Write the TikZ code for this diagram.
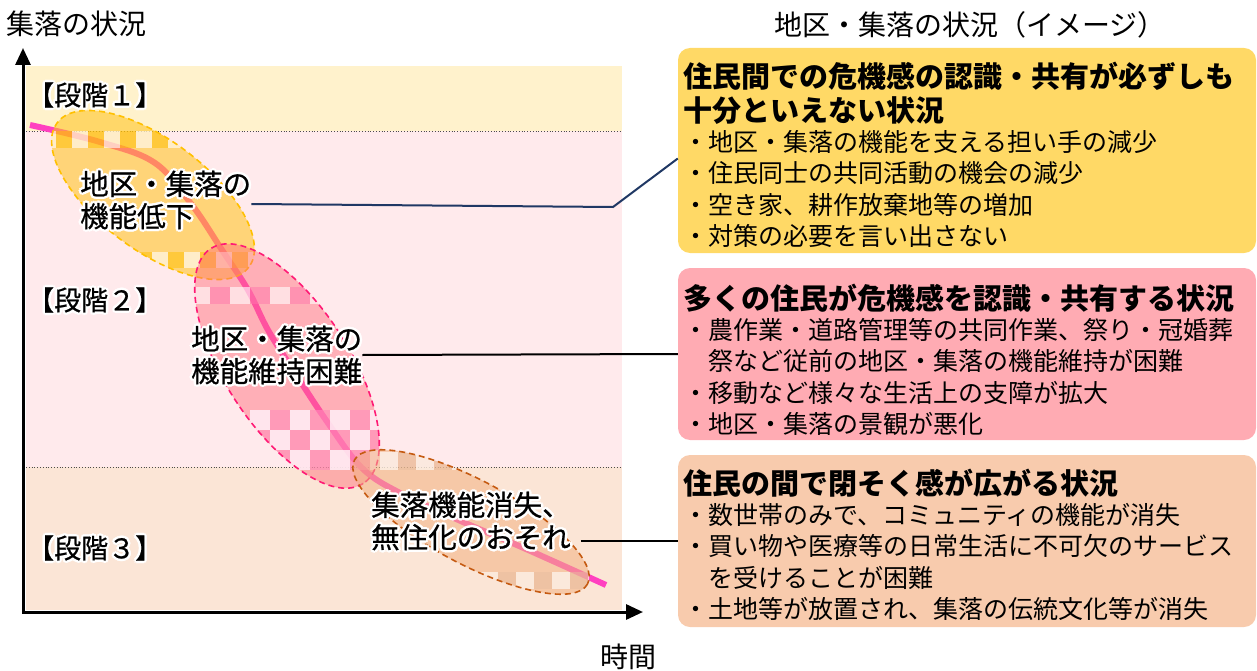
\documentclass[tikz,border=0pt]{standalone}
\usepackage{fontspec}
\setmainfont{Noto Sans CJK JP}
\newfontfamily\jpheavy[FakeBold=0.7]{Noto Sans CJK JP}
\usetikzlibrary{arrows.meta,positioning}

\definecolor{bandA}{HTML}{FFF2CC}
\definecolor{bandB}{HTML}{FFEAEC}
\definecolor{bandC}{HTML}{FBE5D6}
\definecolor{boxA}{HTML}{FFD966}
\definecolor{boxB}{HTML}{FFABB3}
\definecolor{boxC}{HTML}{F8CBAD}
\definecolor{ellA}{HTML}{FFC219}
\definecolor{ellB}{HTML}{FF6978}
\definecolor{ellC}{HTML}{F2B182}
\definecolor{rimA}{HTML}{FFC000}
\definecolor{rimB}{HTML}{FF1A75}
\definecolor{rimC}{HTML}{C55A11}
\definecolor{trendpink}{HTML}{FF40C0}
\definecolor{navy}{HTML}{203864}

% white halo round a line of text
\newcommand\hcopy[3]{\rlap{\hspace*{#1}\raisebox{#2}{\color{white}#3}}}
\newcommand\glow[1]{\hcopy{2.5pt}{0pt}{#1}\hcopy{-2.5pt}{0pt}{#1}\hcopy{0pt}{2.5pt}{#1}\hcopy{0pt}{-2.5pt}{#1}%
  \hcopy{1.8pt}{1.8pt}{#1}\hcopy{-1.8pt}{1.8pt}{#1}\hcopy{1.8pt}{-1.8pt}{#1}\hcopy{-1.8pt}{-1.8pt}{#1}#1}

\tikzset{
  lbltext/.style={font=\jpheavy\fontsize{28.5}{30}\selectfont, align=left, inner sep=0pt, anchor=west},
  stagetext/.style={font=\jpheavy\fontsize{27}{30}\selectfont, inner sep=0pt, anchor=west},
  plaintext/.style={font=\fontsize{28}{30}\selectfont, inner sep=0pt},
  infobox/.style={rounded corners=12pt, minimum width=578pt, inner sep=0pt},
  headtext/.style={font=\fontsize{29}{34}\selectfont\bfseries, align=left, inner sep=0pt, anchor=north west},
  itemtext/.style={font=\fontsize{25}{31.5}\selectfont, align=left, inner sep=0pt},
  linkline/.style={line width=2pt},
  rimline/.style={line width=1.6pt, dash pattern=on 6pt off 4pt},
  axisline/.style={line width=3pt, {Triangle[length=17pt,width=15pt]}-{Triangle[length=17pt,width=15pt]}},
}

\begin{document}
\begin{tikzpicture}[x=1pt, y=-1pt]
\useasboundingbox (0,0) rectangle (1257,671);

% stages
\fill[bandA] (26,66) rectangle (622,131);
\fill[bandB] (26,131) rectangle (622,467);
\fill[bandC] (26,467) rectangle (622,610);
\draw[dotted, line width=.8pt, black!70] (26,131) -- (622,131);
\draw[dotted, line width=.8pt, black!70] (26,467) -- (622,467);

% axes
\coordinate (org) at (23,612);
\coordinate (ytip) at (23,48);
\coordinate (xtip) at (643,612);
\draw[axisline] (ytip) -- (org) -- (xtip);
\node[plaintext, anchor=west] (ylab) at (6,24) {集落の状況};
\node[plaintext] (xlab) at (628,657) {時間};
\node[plaintext] (title) at (970,25) {地区・集落の状況（イメージ）};

% trend
\draw[trendpink, line width=6pt] plot[smooth, tension=.6] coordinates {(30,125) (100,142) (155,163) (192,205) (222,250) (248,290) (268,330) (295,373) (328,423) (362,468) (400,493) (463,522) (526,549) (606,585)};

% ellipse 1
\fill[ellA, opacity=.55, rotate around={-37:(153,195)}] (153,195) ellipse [x radius=120, y radius=55];
\begin{scope}
  \clip[rotate around={-37:(153,195)}] (153,195) ellipse [x radius=120, y radius=55];
  \foreach \i in {0,...,6} {
    \fill[white, opacity=.6] (40+32*\i,131) rectangle ++(16,17);
    \fill[rimA, opacity=.5] (56+32*\i,131) rectangle ++(16,17);
    \fill[white, opacity=.6] (56+32*\i,252) rectangle ++(16,16);
    \fill[rimA, opacity=.5] (40+32*\i,252) rectangle ++(16,16);
  }
\end{scope}
\draw[rimline, rimA, rotate around={-37:(153,195)}] (153,195) ellipse [x radius=120, y radius=55];

% ellipse 2
\fill[ellB, opacity=.45, rotate around={-57:(287,366)}] (287,366) ellipse [x radius=140, y radius=62];
\begin{scope}
  \clip[rotate around={-57:(287,366)}] (287,366) ellipse [x radius=140, y radius=62];
  \foreach \i in {0,...,3} {
    \fill[white, opacity=.6] (190+40*\i,287) rectangle ++(20,17);
    \fill[rimB!60, opacity=.5] (210+40*\i,287) rectangle ++(20,17);
  }
  \fill[rimB!50, opacity=.6] (250,410) rectangle (392,470);
  \foreach \i in {0,2,4,6} \foreach \j in {0,2} \fill[white, opacity=.75] (250+20*\i,410+20*\j) rectangle ++(20,20);
  \foreach \i in {1,3,5} \fill[white, opacity=.75] (250+20*\i,430) rectangle ++(20,20);
\end{scope}
\draw[rimline, rimB, rotate around={-57:(287,366)}] (287,366) ellipse [x radius=140, y radius=62];

% ellipse 3
\fill[ellC, opacity=.55, rotate around={-28:(471,522)}] (471,522) ellipse [x radius=132, y radius=42];
\begin{scope}
  \clip[rotate around={-28:(471,522)}] (471,522) ellipse [x radius=132, y radius=42];
  \foreach \i in {0,...,3} {
    \fill[white, opacity=.6] (380+36*\i,452) rectangle ++(18,18);
    \fill[rimC!40, opacity=.5] (398+36*\i,452) rectangle ++(18,18);
    \fill[white, opacity=.6] (480+36*\i,572) rectangle ++(18,17);
    \fill[rimC!40, opacity=.5] (498+36*\i,572) rectangle ++(18,17);
  }
\end{scope}
\draw[rimline, rimC, rotate around={-28:(471,522)}] (471,522) ellipse [x radius=132, y radius=42];

% labels
\node[stagetext] (st1) at (27,95) {\glow{【段階１】}};
\node[stagetext] (st2) at (27,300) {\glow{【段階２】}};
\node[stagetext] (st3) at (27,548) {\glow{【段階３】}};
\node[lbltext] (lab1) at (80,200) {\glow{地区・集落の}\\\glow{機能低下}};
\node[lbltext] (lab2) at (191,355) {\glow{地区・集落の}\\\glow{機能維持困難}};
\node[lbltext] (lab3) at (371,521) {\glow{集落機能消失、}\\\glow{無住化のおそれ}};

% boxes
\node[infobox, fill=boxA, minimum height=205pt] (box1) at (967,150.5) {};
\node[infobox, fill=boxB, minimum height=172pt] (box2) at (967,354) {};
\node[infobox, fill=boxC, minimum height=172pt] (box3) at (967,541) {};

\coordinate (bend1) at (613,207);
\draw[linkline, navy] ([yshift=-4pt]lab1.east) -- (bend1) -- ([yshift=-8pt]box1.west);
\draw[linkline] (lab2.east) -- (box2.west);
\draw[linkline] ([xshift=10pt]lab3.east |- box3.west) -- (box3.west);

\node[headtext] (head1) at (683,62) {住民間での危機感の認識・共有が必ずしも\\十分といえない状況};
\node[itemtext, below=5pt of head1.south west, anchor=north west] (item1) {・地区・集落の機能を支える担い手の減少\\・住民同士の共同活動の機会の減少\\・空き家、耕作放棄地等の増加\\・対策の必要を言い出さない};

\node[headtext] (head2) at (683,284) {多くの住民が危機感を認識・共有する状況};
\node[itemtext, below=5pt of head2.south west, anchor=north west] (item2) {・農作業・道路管理等の共同作業、祭り・冠婚葬\\\hspace*{1em}祭など従前の地区・集落の機能維持が困難\\・移動など様々な生活上の支障が拡大\\・地区・集落の景観が悪化};

\node[headtext] (head3) at (683,469) {住民の間で閉そく感が広がる状況};
\node[itemtext, below=5pt of head3.south west, anchor=north west] (item3) {・数世帯のみで、コミュニティの機能が消失\\・買い物や医療等の日常生活に不可欠のサービス\\\hspace*{1em}を受けることが困難\\・土地等が放置され、集落の伝統文化等が消失};
\end{tikzpicture}
\end{document}
